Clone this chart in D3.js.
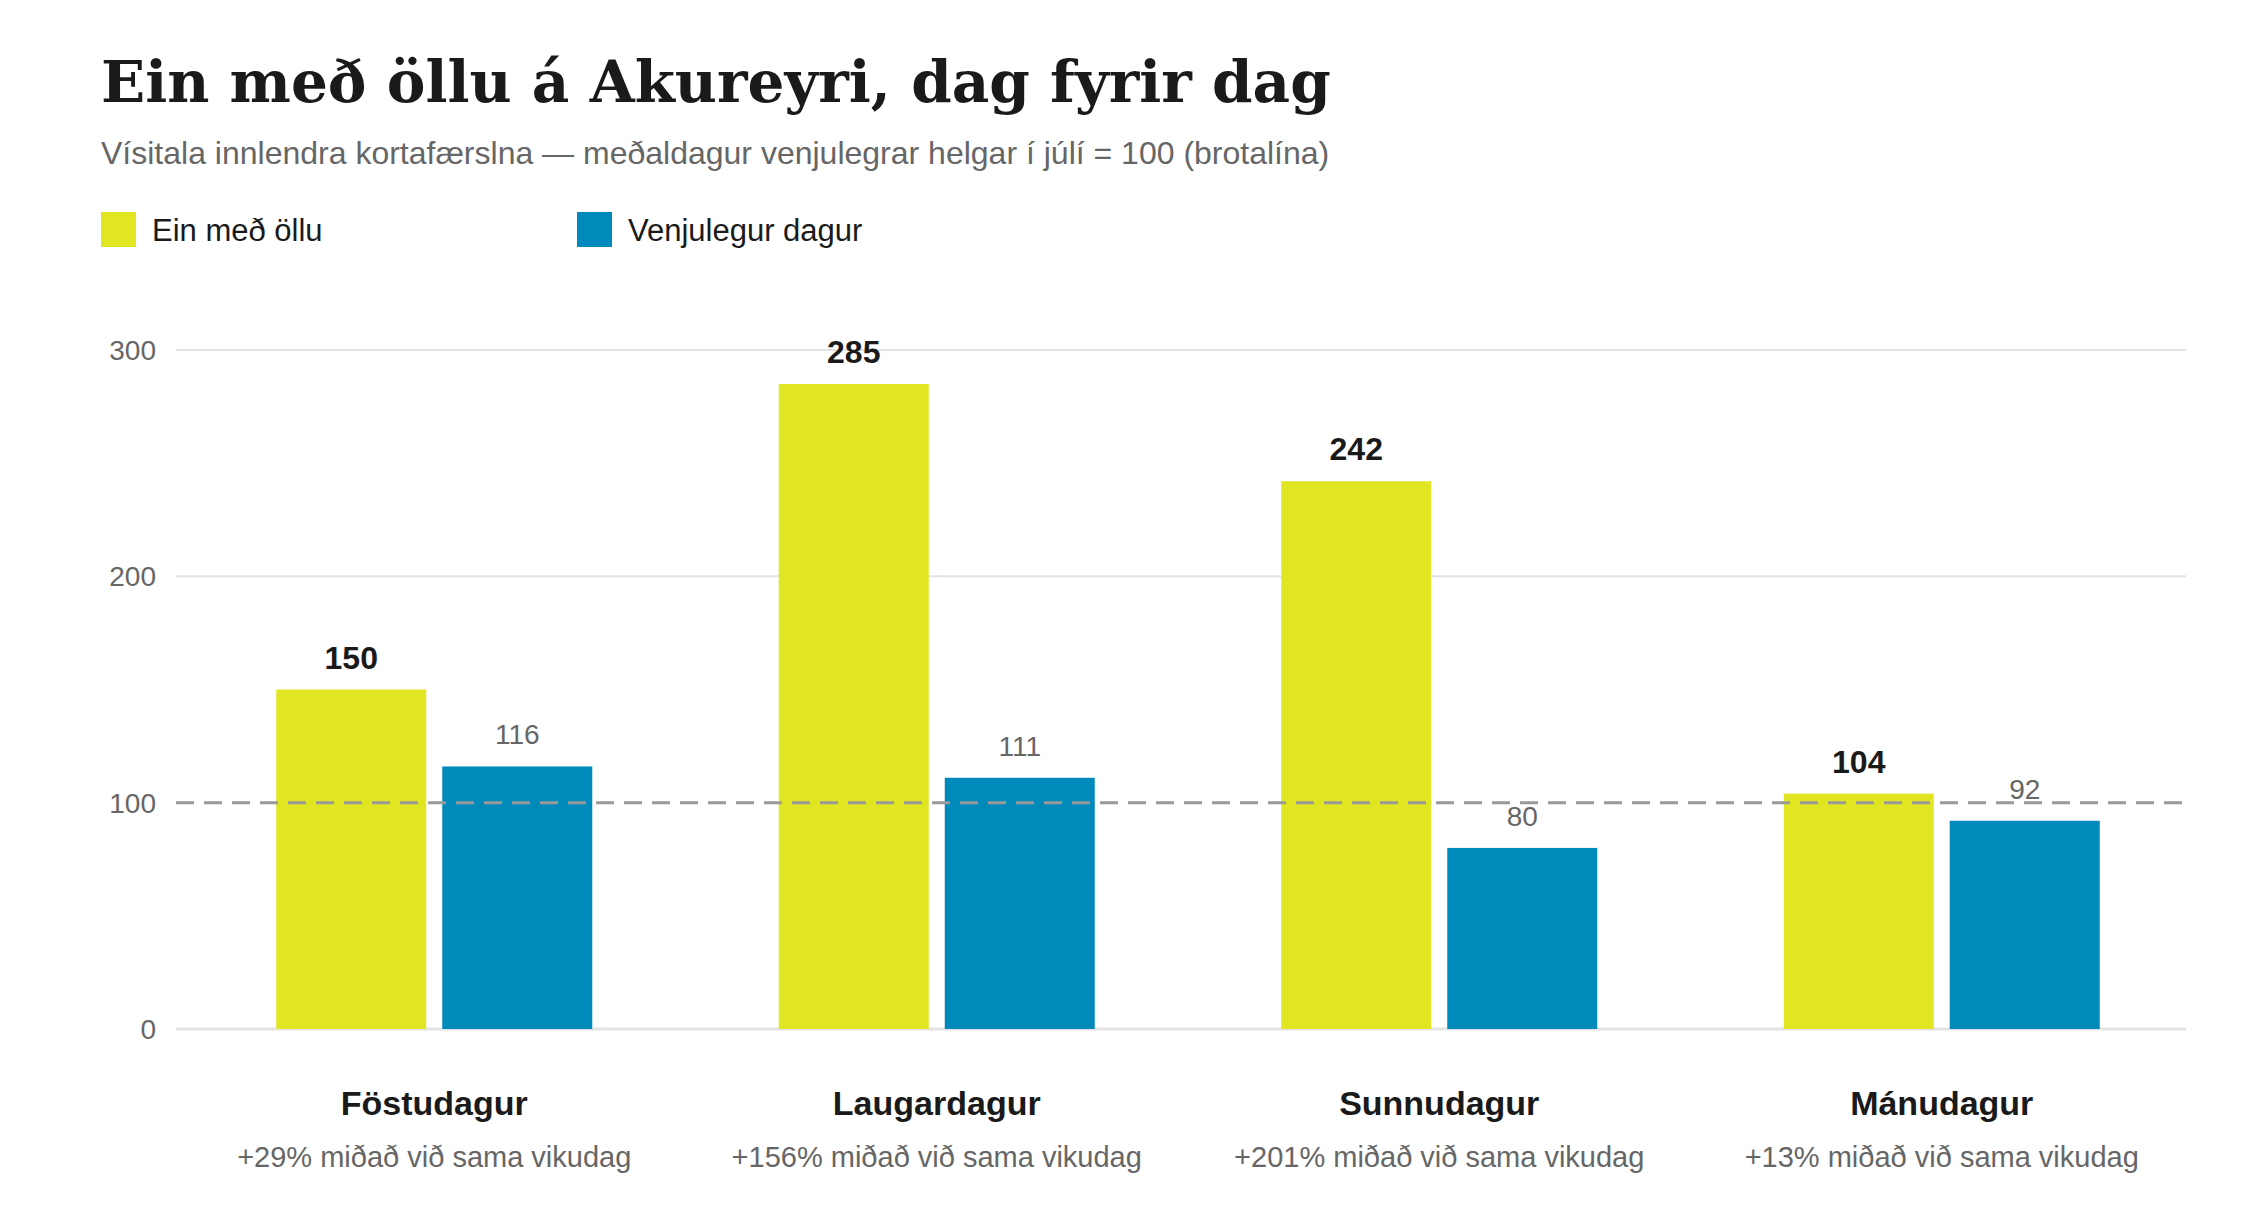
<!DOCTYPE html>
<html><head><meta charset="utf-8">
<script src="https://cdn.jsdelivr.net/npm/d3@7"></script>
<style>body{margin:0;background:#fff}</style>
</head><body>
<svg id="c" width="2250" height="1225"></svg>
<script>
var days = ["Föstudagur", "Laugardagur", "Sunnudagur", "Mánudagur"];
var notes = ["+29% miðað við sama vikudag", "+156% miðað við sama vikudag", "+201% miðað við sama vikudag", "+13% miðað við sama vikudag"];
var einMedOllu = [150, 285, 242, 104];
var venjulegur = [116, 111, 80, 92];
var yTicks = [0, 100, 200, 300];

var svg = d3.select("#c");
var font = "'Liberation Sans', Arial, sans-serif";
var y = d3.scaleLinear().domain([0, 300]).range([1029, 350]);
var x = d3.scaleBand().domain(days).range([183, 2193]);
var bw = 150, gap = 16;

svg.append("text").attr("x", 101).attr("y", 102).attr("font-family", "'DejaVu Serif', serif")
  .attr("font-weight", "bold").attr("font-size", 58).attr("fill", "#1a1a1a")
  .text("Ein með öllu á Akureyri, dag fyrir dag");
svg.append("text").attr("x", 101).attr("y", 164).attr("font-family", font)
  .attr("font-size", 32).attr("fill", "#666")
  .text("Vísitala innlendra kortafærslna — meðaldagur venjulegrar helgar í júlí = 100 (brotalína)");

var legend = [["Ein með öllu", "#e1e622", 101], ["Venjulegur dagur", "#0089bb", 577]];
legend.forEach(function(l) {
  svg.append("rect").attr("x", l[2]).attr("y", 212).attr("width", 35).attr("height", 35).attr("fill", l[1]);
  svg.append("text").attr("x", l[2] + 51).attr("y", 241).attr("font-family", font)
    .attr("font-size", 31).attr("fill", "#1a1a1a").text(l[0]);
});

yTicks.forEach(function(t) {
  if (t !== 100) {
    svg.append("line").attr("x1", 176).attr("x2", 2186).attr("y1", y(t)).attr("y2", y(t))
      .attr("stroke", "#e3e3e3").attr("stroke-width", t === 0 ? 3 : 2);
  }
  svg.append("text").attr("x", 156).attr("y", y(t) + 10).attr("text-anchor", "end")
    .attr("font-family", font).attr("font-size", 28).attr("fill", "#666").text(t);
});

days.forEach(function(d, i) {
  var c = x(d) + x.bandwidth() / 2;
  var x1 = c - gap / 2 - bw, x2 = c + gap / 2;
  svg.append("rect").attr("x", x1).attr("y", y(einMedOllu[i])).attr("width", bw)
    .attr("height", y(0) - y(einMedOllu[i])).attr("fill", "#e1e622");
  svg.append("rect").attr("x", x2).attr("y", y(venjulegur[i])).attr("width", bw)
    .attr("height", y(0) - y(venjulegur[i])).attr("fill", "#0089bb");
  svg.append("text").attr("x", x1 + bw / 2).attr("y", y(einMedOllu[i]) - 21).attr("text-anchor", "middle")
    .attr("font-family", font).attr("font-weight", "bold").attr("font-size", 32).attr("fill", "#1a1a1a")
    .text(einMedOllu[i]);
  svg.append("text").attr("x", x2 + bw / 2).attr("y", y(venjulegur[i]) - 22).attr("text-anchor", "middle")
    .attr("font-family", font).attr("font-size", 28).attr("fill", "#666").text(venjulegur[i]);
  svg.append("text").attr("x", c).attr("y", 1115).attr("text-anchor", "middle")
    .attr("font-family", font).attr("font-weight", "bold").attr("font-size", 34).attr("fill", "#1a1a1a").text(d);
  svg.append("text").attr("x", c).attr("y", 1167).attr("text-anchor", "middle")
    .attr("font-family", font).attr("font-size", 29).attr("fill", "#666").text(notes[i]);
});

// reference line at 100, drawn over the bars
svg.append("line").attr("x1", 176).attr("x2", 2186).attr("y1", y(100)).attr("y2", y(100))
  .attr("stroke", "#999").attr("stroke-width", 3).attr("stroke-dasharray", "18,10");
// bars cover the dashed line except in gaps
</script>
</body></html>
